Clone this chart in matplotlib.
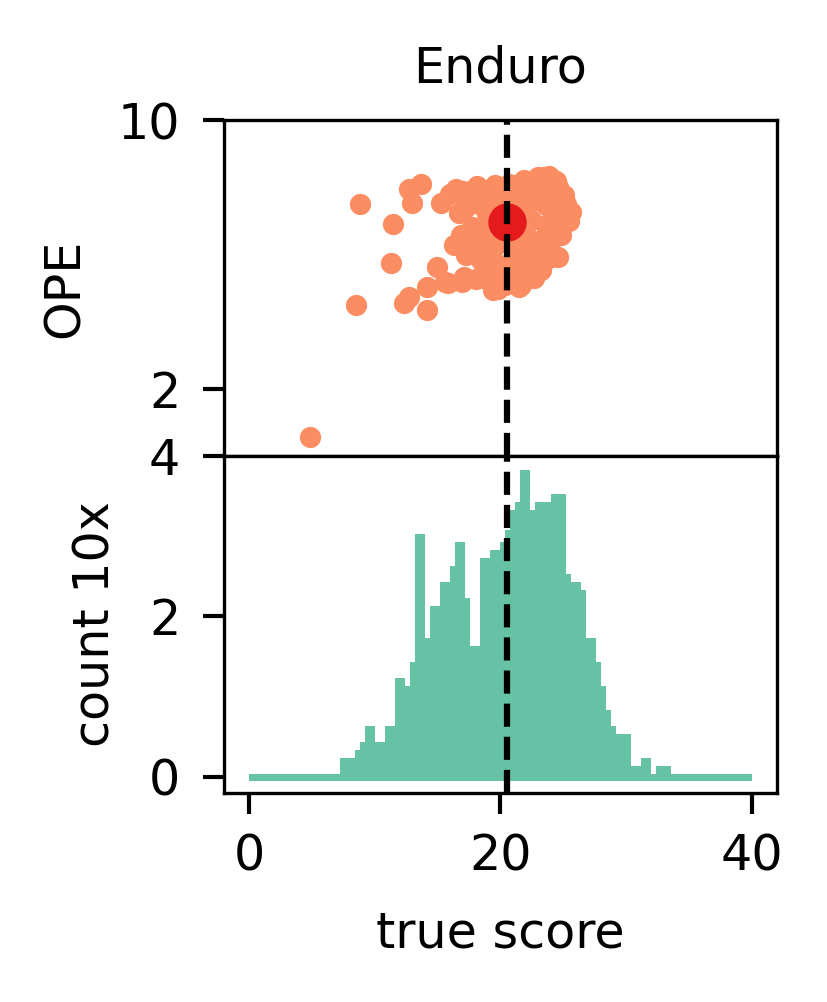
import numpy as np
import matplotlib.pyplot as plt

plt.rcParams['font.size'] = 11.8

# scatter: true score vs OPE estimate
true_score = [8.86, 11.47, 11.31, 8.49, 4.87, 13.65, 12.72, 12.99, 12.32, 12.72,
              14.19, 14.13, 14.99, 16.31, 15.57, 16.98, 18.04, 19.46, 15.25, 16.45,
              16.71, 18.18, 19.56, 17.78, 17.91, 18.44, 22.70, 21.24, 24.61, 25.63,
              25.09, 23.50, 21.90, 21.10, 24.03, 24.30, 23.23, 22.43, 15.81, 17.09,
              19.80, 21.64, 19.00, 19.48, 19.00, 21.64, 22.99, 22.43, 23.47, 17.64,
              20.44, 20.44, 20.44, 21.24, 21.64, 22.43, 23.63, 24.43, 24.83, 24.03,
              19.80, 18.44, 20.04, 18.84, 20.84, 22.67, 23.23, 17.25, 19.24, 22.04,
              23.63, 16.00, 17.00, 17.20, 18.30, 19.20, 19.90, 18.90, 16.90, 17.40,
              18.80, 19.50, 19.70, 18.60, 20.80, 21.20, 21.00, 21.70, 22.00, 21.30,
              21.00, 22.30, 22.80, 23.30, 24.60, 25.20, 24.80, 23.90, 23.00, 22.00,
              23.90, 24.20, 20.30, 20.00, 20.70, 21.60, 23.00, 23.90, 24.40, 25.50,
              20.40, 22.90, 19.40, 21.50]
ope = [7.51, 6.91, 5.75, 4.51, 0.58, 8.10, 7.94, 7.55, 4.57, 4.75,
       4.35, 5.05, 5.64, 6.29, 5.20, 5.20, 5.27, 5.10, 7.55, 7.94,
       7.23, 8.04, 8.07, 6.83, 6.24, 5.84, 5.30, 5.25, 5.94, 7.28,
       7.78, 8.32, 8.22, 8.02, 8.12, 6.83, 6.44, 5.84, 5.16, 5.34,
       4.99, 5.11, 6.94, 6.23, 5.84, 7.33, 7.63, 6.35, 6.14, 7.69,
       7.63, 6.44, 5.69, 6.59, 5.84, 7.03, 7.48, 7.63, 7.18, 6.44,
       5.69, 6.59, 7.27, 7.78, 7.93, 7.93, 5.55, 6.00, 5.40, 5.54,
       6.89, 7.80, 7.90, 7.40, 7.50, 7.50, 8.00, 7.20, 6.60, 6.20,
       6.30, 6.60, 5.50, 5.30, 5.30, 5.80, 6.20, 6.20, 6.80, 7.00,
       7.50, 7.60, 8.10, 7.90, 8.00, 7.50, 6.60, 5.90, 6.00, 5.60,
       6.90, 7.40, 6.90, 7.60, 8.10, 8.10, 8.30, 8.35, 8.20, 7.00,
       5.10, 5.50, 4.95, 5.05]
mean_true = 20.57
mean_ope = 6.96

# histogram of true scores, log10(count) per bin
bin_edges = np.linspace(0, 40, 101)
log_counts = [0, 0, 0, 0, 0, 0, 0, 0, 0, 0,
              0, 0, 0, 0, 0, 0, 0, 0, 0.2, 0.2,
              0.2, 0.3, 0.4, 0.6, 0.6, 0.4, 0.4, 0.6, 0.6, 1.2,
              1.2, 1.1, 1.4, 3.0, 3.0, 1.7, 2.1, 2.1, 2.4, 2.4,
              2.6, 2.9, 2.9, 2.2, 1.6, 1.6, 2.7, 2.7, 2.8, 2.8,
              2.9, 3.05, 3.3, 3.4, 3.8, 3.8, 3.3, 3.4, 3.4, 3.4,
              3.5, 3.5, 3.5, 2.5, 2.4, 2.4, 2.3, 1.7, 1.7, 1.4,
              1.1, 0.8, 0.6, 0.5, 0.5, 0.5, 0.1, 0.1, 0.2, 0.2,
              0, 0.1, 0.1, 0.1, 0, 0, 0, 0, 0, 0,
              0, 0, 0, 0, 0, 0, 0, 0, 0, 0]

fig, (ax_top, ax_bot) = plt.subplots(2, 1, figsize=(2.76, 3.34), dpi=300, sharex=True)
fig.subplots_adjust(left=0.2705, right=0.938, top=0.880, bottom=0.209, hspace=0)

ax_top.scatter(true_score, ope, s=26, color='#fc8d62', linewidths=0, zorder=2)
ax_top.scatter([mean_true], [mean_ope], s=85, color='#e41a1c', linewidths=0, zorder=3)
ax_top.axvline(mean_true, color='black', linestyle='--', lw=1.5, zorder=4)
ax_top.set_ylim(0, 10)
ax_top.set_yticks([2, 10])
ax_top.set_ylabel('OPE', labelpad=7)
ax_top.set_title('Enduro', fontsize=11.8, pad=9)
ax_top.tick_params(axis='x', bottom=False)

base = -0.05
widths = np.diff(bin_edges)
ax_bot.bar(bin_edges[:-1], np.array(log_counts) + 0.08, width=widths, bottom=base,
           align='edge', color='#66c2a5', linewidth=0)
ax_bot.axvline(mean_true, color='black', linestyle='--', lw=1.5, zorder=4)
ax_bot.set_ylim(-0.2, 4)
ax_bot.set_yticks([0, 2, 4])
ax_bot.set_xlim(-2, 42)
ax_bot.set_xticks([0, 20, 40])
ax_bot.set_ylabel('count 10x', labelpad=7)
ax_bot.set_xlabel('true score', labelpad=7)

for ax in (ax_top, ax_bot):
    ax.tick_params(length=5, width=1.0)
    ax.tick_params(axis='y', pad=5.5)
    ax.tick_params(axis='x', pad=4.5)
    for sp in ax.spines.values():
        sp.set_linewidth(0.8)

fig.savefig('out.png', dpi=300)
